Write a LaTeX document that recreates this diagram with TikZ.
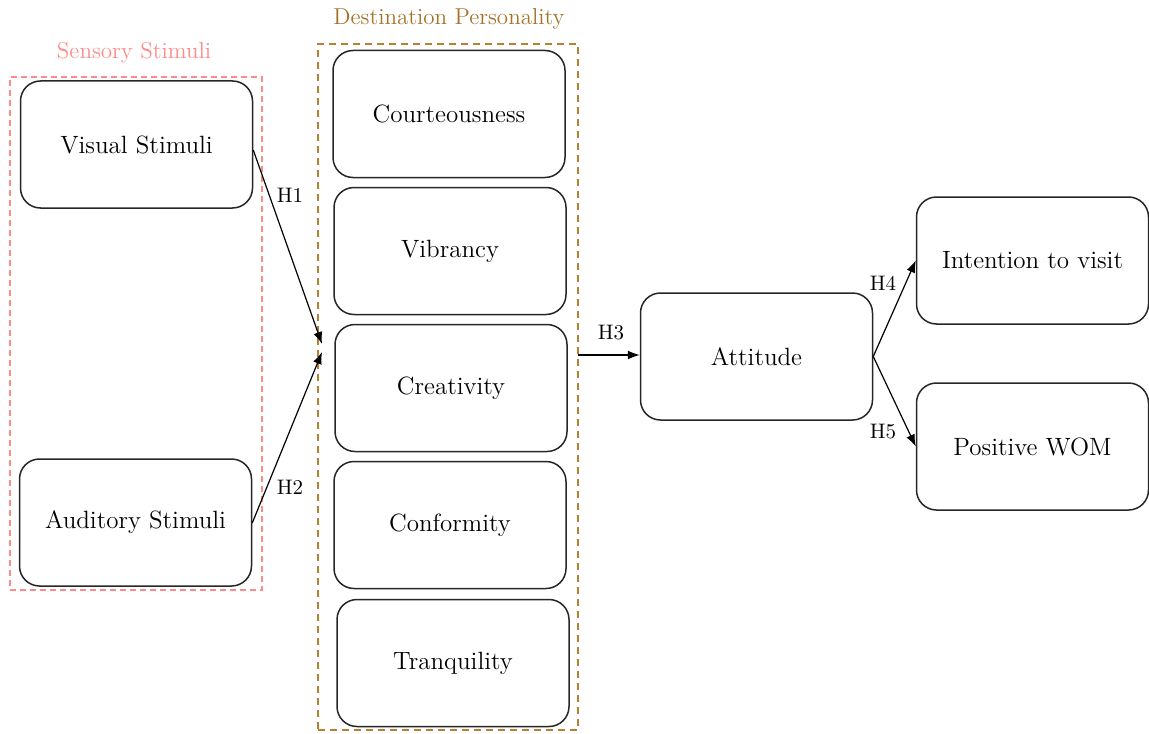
\documentclass[tikz,border=0pt]{standalone}
\usetikzlibrary{arrows.meta}
\definecolor{pinkgrp}{HTML}{FF8A8A}
\definecolor{browngrp}{HTML}{B5802F}
\begin{document}
\begin{tikzpicture}[x=0.5pt,y=-0.5pt,
  box/.style={draw=black!85,line width=0.75pt,rounded corners=10pt,minimum width=116pt,minimum height=63.5pt,font=\fontsize{12.5}{14}\selectfont,inner sep=0pt},
  grp/.style={line width=0.6pt,inner sep=0pt},
  arr/.style={-{Latex[length=6pt,width=4.5pt]},line width=0.6pt},
  hlab/.style={font=\fontsize{10.5}{12}\selectfont,inner sep=1pt}]
\useasboundingbox (0,0) rectangle (1149,733);
% groups
\node[grp,draw=pinkgrp,dash pattern=on 3pt off 2pt,minimum width=126pt,minimum height=256.5pt] (sens) at (136,333.5) {};
\node[text=pinkgrp,font=\fontsize{11.5}{13}\selectfont] (senslab) at (134,53) {Sensory Stimuli};
\node[grp,draw=browngrp,dash pattern=on 3.5pt off 2.5pt,minimum width=130pt,minimum height=343pt] (dest) at (448,387) {};
\node[text=browngrp!90!black,font=\fontsize{11.5}{13}\selectfont] (destlab) at (449,19) {Destination Personality};
% boxes
\node[box] (vis) at (136.5,144.5) {Visual Stimuli};
\node[box] (aud) at (135.5,522.5) {Auditory Stimuli};
\node[box] (cou) at (449,114) {Courteousness};
\node[box] (vib) at (450,251) {Vibrancy};
\node[box] (cre) at (451,388) {Creativity};
\node[box] (con) at (450,525) {Conformity};
\node[box] (tra) at (453,663) {Tranquility};
\node[box] (att) at (756.5,356.5) {Attitude};
\node[box] (int) at (1032.5,260.5) {Intention to visit};
\node[box] (pos) at (1032.5,446.5) {Positive WOM};
% connector ends
\coordinate (in1) at (322,344);
\coordinate (in2) at (322,352);
\coordinate (out3) at (578,355);
% arrows
\draw[arr] (vis.east |- 0,150) -- (in1);
\draw[arr] (aud.east |- 0,523) -- (in2);
\draw[arr] (out3) -- (att.west |- out3);
\draw[arr] (att.east) -- (int.west);
\draw[arr] (att.east) -- (pos.west);
% labels
\node[hlab] (h1) at (290,195) {H1};
\node[hlab] (h2) at (290,487) {H2};
\node[hlab] (h3) at (611,333) {H3};
\node[hlab] (h4) at (883,283) {H4};
\node[hlab] (h5) at (883,432) {H5};
\end{tikzpicture}
\end{document}
